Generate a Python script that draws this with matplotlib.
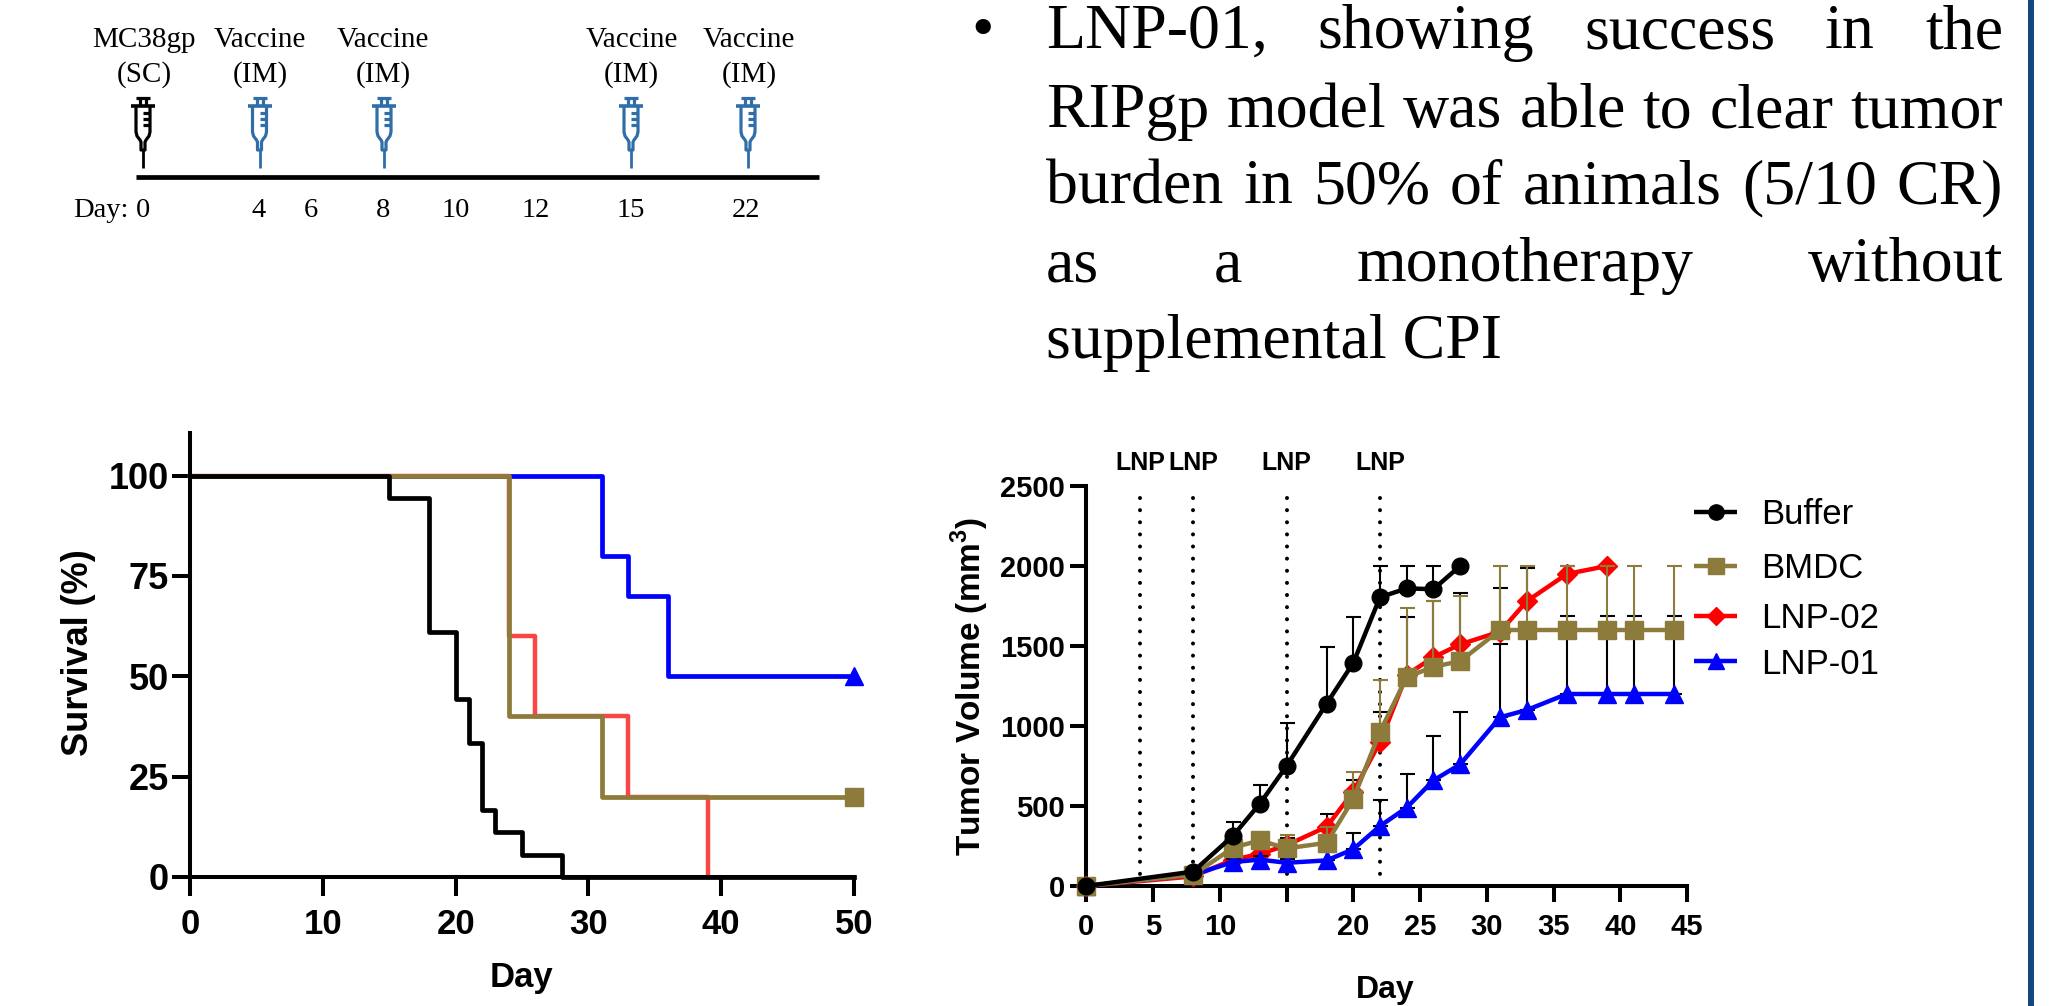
"""Vaccine schedule, survival and tumor growth slide panel."""
import matplotlib
matplotlib.use("Agg")
import matplotlib.pyplot as plt

W, H = 2069, 1006
SERIF = "Liberation Serif"
SANS = "Liberation Sans"

plt.rcParams["font.family"] = SANS
plt.rcParams["mathtext.fontset"] = "custom"
plt.rcParams["mathtext.bf"] = "Liberation Sans:bold"

BLACK = "#000000"
OLIVE = "#8c7b3a"
RED = "#ff0000"
LIGHT_RED = "#fb4545"
BLUE = "#0000ff"
SYRINGE_BLUE = "#2f6ea8"
BAR_BLUE = "#13487c"

# schedule
sched_labels = ["MC38gp\n(SC)", "Vaccine\n(IM)", "Vaccine\n(IM)", "Vaccine\n(IM)", "Vaccine\n(IM)"]
sched_days = ["0", "4", "6", "8", "10", "12", "15", "22"]

# bullet text
bullet_lines = [
    "LNP-01, showing success in the",
    "RIPgp model was able to clear tumor",
    "burden in 50% of animals (5/10 CR)",
    "as a monotherapy without",
    "supplemental CPI",
]

# survival curves, (day of drop, level after drop)
surv_buffer_x = [0, 15, 18, 20, 21, 22, 23, 25, 28, 50]
surv_buffer_y = [100, 94.4, 61.1, 44.4, 33.3, 16.7, 11.1, 5.6, 0, 0]
surv_bmdc_x = [0, 24, 31, 50]
surv_bmdc_y = [100, 40, 20, 20]
surv_lnp02_x = [0, 24, 26, 33, 39]
surv_lnp02_y = [100, 60, 40, 20, 0]
surv_lnp01_x = [0, 31, 33, 36, 50]
surv_lnp01_y = [100, 80, 70, 50, 50]

# tumor volume, top = top of the error bar
days_long = [0, 8, 11, 13, 15, 18, 20, 22, 24, 26, 28, 31, 33, 36, 39, 41, 44]
buffer_x = days_long[:11]
buffer_y = [0, 90, 315, 515, 750, 1140, 1395, 1805, 1860, 1855, 2000]
buffer_top = [0, 100, 400, 630, 1020, 1495, 1680, 2000, 2000, 2000, 2000]
bmdc_x = days_long
bmdc_y = [0, 70, 240, 285, 235, 270, 545, 965, 1305, 1370, 1405, 1600, 1600, 1600, 1600, 1600, 1600]
bmdc_top = [0, 80, 260, 310, 320, 370, 710, 1285, 1740, 1780, 1810, 2000, 2000, 2000, 2000, 2000, 2000]
lnp02_x = days_long[:15]
lnp02_y = [0, 60, 165, 200, 255, 370, 590, 900, 1320, 1430, 1510, 1590, 1780, 1950, 2000]
lnp02_top = [0, 70, 190, 240, 300, 450, 665, 1090, 1680, 1780, 1830, 1860, 1990, 2000, 2000]
lnp01_x = days_long
lnp01_y = [0, 70, 150, 165, 145, 160, 230, 375, 490, 660, 760, 1055, 1100, 1200, 1200, 1200, 1200]
lnp01_top = [0, 75, 170, 190, 170, 215, 330, 540, 700, 940, 1090, 1510, 1600, 1690, 1690, 1690, 1690]
lnp_days = [4, 8, 15, 22]


def ax_px(x0, x1, y_top, y_bottom):
    """Axes from pixel edges of the picture."""
    return fig.add_axes([x0 / W, 1 - y_bottom / H, (x1 - x0) / W, (y_bottom - y_top) / H])


def draw_syringe(ax, x, color):
    kw = dict(color=color, lw=2.3, solid_capstyle="butt")
    ax.plot([x - 7, x + 7], [98, 98], **kw)
    ax.plot([x - 3, x - 3], [98, 105], **kw)
    ax.plot([x + 3, x + 3], [98, 105], **kw)
    ax.plot([x - 12, x + 12], [105.5, 105.5], color=color, lw=2.6, solid_capstyle="butt")
    ax.plot([x - 7, x - 7, x - 6, x - 3, x - 2, x - 2, x + 2, x + 2, x + 3, x + 6, x + 7, x + 7],
            [105, 132, 136, 140, 142, 150, 150, 142, 140, 136, 132, 105], **kw)
    for yy in (113, 119, 125):
        ax.plot([x, x + 7], [yy, yy], **kw)
    ax.plot([x, x], [150, 168], color=color, lw=2.0, solid_capstyle="butt")


def justified(ax, words, x0, x1, y, size):
    texts = [ax.text(x0, y, w, family=SERIF, fontsize=size, va="baseline", ha="left", color="black")
             for w in words]
    r = fig.canvas.get_renderer()
    widths = [t.get_window_extent(r).width for t in texts]
    gap = (x1 - x0 - sum(widths)) / (len(words) - 1)
    x = x0
    for t, w in zip(texts, widths):
        t.set_x(x)
        x += w + gap


fig = plt.figure(figsize=(W / 100, H / 100), dpi=100, facecolor="white")

# --- overlay in pixel coordinates ---
ov = fig.add_axes([0, 0, 1, 1], zorder=0)
ov.set_xlim(0, W); ov.set_ylim(H, 0); ov.axis("off")

syr_x = [143, 259.5, 384, 631, 748]
lab_x = [144, 260, 383, 631.5, 749]
for i, (sx, lx, lab) in enumerate(zip(syr_x, lab_x, sched_labels)):
    draw_syringe(ov, sx, BLACK if i == 0 else SYRINGE_BLUE)
    top, bottom = lab.split("\n")
    ov.text(lx, 47, top, family=SERIF, fontsize=21, ha="center", va="baseline")
    ov.text(lx, 82, bottom, family=SERIF, fontsize=21, ha="center", va="baseline")
ov.plot([135.5, 818.5], [176.5, 176.5], color="black", lw=3.4, solid_capstyle="butt")
ov.text(73, 217, "Day:", family=SERIF, fontsize=20.5, ha="left", va="baseline")
for d, dx in zip(sched_days, [143, 259, 310.5, 383, 456, 536, 631, 746]):
    ov.text(dx, 217, d, family=SERIF, fontsize=20.5, ha="center", va="baseline")

ov.text(983, 48, "•", family=SERIF, fontsize=46, ha="center", va="baseline")
baselines = [48, 127, 203, 281, 358]
for line, by in zip(bullet_lines[:4], baselines):
    justified(ov, line.split(), 1046, 2003, by, 46)
ov.text(1046, baselines[4], bullet_lines[4], family=SERIF, fontsize=46, va="baseline")

ov.fill_between([2028, 2033.5], 0, H, color=BAR_BLUE, lw=0)

# --- survival ---
ax = ax_px(190, 854, 433, 877)
ax.set_xlim(0, 50)
ax.set_ylim(0, 110.6)
ax.step(surv_lnp01_x, surv_lnp01_y, where="post", color=BLUE, lw=3.4, clip_on=False)
ax.step(surv_lnp02_x, surv_lnp02_y, where="post", color=LIGHT_RED, lw=3.2, clip_on=False)
ax.step(surv_bmdc_x, surv_bmdc_y, where="post", color=OLIVE, lw=3.4, clip_on=False)
ax.step(surv_buffer_x, surv_buffer_y, where="post", color=BLACK, lw=3.4, clip_on=False)
ax.plot(surv_lnp01_x[-1], surv_lnp01_y[-1], "^", color=BLUE, ms=13, clip_on=False, zorder=5)
ax.plot(surv_bmdc_x[-1], surv_bmdc_y[-1], "s", color=OLIVE, ms=13, clip_on=False, zorder=5)
for s in ("top", "right"):
    ax.spines[s].set_visible(False)
for s in ("left", "bottom"):
    ax.spines[s].set_linewidth(2.9)
ax.set_xticks(range(0, 51, 10))
ax.set_yticks([0, 25, 50, 75, 100])
ax.tick_params(axis="x", length=14, width=2.9, pad=8, labelsize=25)
ax.tick_params(axis="y", length=13, width=2.9, pad=2, labelsize=26)
for t in ax.get_xticklabels() + ax.get_yticklabels():
    t.set_fontweight("bold")
ov.text(521, 977, "Day", fontsize=25, fontweight="bold", ha="center", va="center")
ov.text(79, 653, "Survival (%)", fontsize=26, fontweight="bold", rotation=90, ha="center", va="center")

# --- tumor volume ---
ax = ax_px(1086.4, 1687, 486, 886)
ax.set_xlim(0, 45)
ax.set_ylim(0, 2500)
for d in lnp_days:
    ax.plot([d, d], [0, 2500], color="black", lw=2.9, ls=(0, (0.01, 3)), dash_capstyle="round", zorder=1)
for name, x, y, top, col, ecol, mk, ms, z in [
    ("LNP-02", lnp02_x, lnp02_y, lnp02_top, RED, BLACK, "D", 10, 3),
    ("LNP-01", lnp01_x, lnp01_y, lnp01_top, BLUE, BLACK, "^", 13, 4),
    ("BMDC", bmdc_x, bmdc_y, bmdc_top, OLIVE, OLIVE, "s", 12.5, 5),
    ("Buffer", buffer_x, buffer_y, buffer_top, BLACK, BLACK, "o", 12, 6),
]:
    yerr = [[0] * len(y), [t - v for t, v in zip(top, y)]]
    ax.errorbar(x, y, yerr=yerr, color=col, ecolor=ecol, lw=3.2, marker=mk, ms=ms, mec=col,
                elinewidth=1.5, capsize=5.4, capthick=1.5, clip_on=False, zorder=z)
for s in ("top", "right"):
    ax.spines[s].set_visible(False)
for s in ("left", "bottom"):
    ax.spines[s].set_linewidth(2.9)
ax.set_xticks(range(0, 46, 5))
ax.set_xticklabels(["0", "5", "10", "", "20", "25", "30", "35", "40", "45"])
ax.set_yticks(range(0, 2501, 500))
ax.tick_params(axis="x", length=11.5, width=2.9, pad=8, labelsize=21)
ax.tick_params(axis="y", length=11.5, width=2.9, pad=4, labelsize=21)
for t in ax.get_xticklabels() + ax.get_yticklabels():
    t.set_fontweight("bold")
for lx in [1140, 1193.6, 1286, 1380]:
    ov.text(lx, 463.5, "LNP", fontsize=18, fontweight="bold", ha="center", va="center")
ov.text(1385, 990, "Day", fontsize=23, fontweight="bold", ha="center", va="center")
ov.text(970, 686, r"Tumor Volume (mm$^{\mathbf{3}}$)", fontsize=24, fontweight="bold",
        rotation=90, ha="center", va="center")

# legend by hand, rows are not evenly spaced in the reference
for name, col, mk, ms, ly in [("Buffer", BLACK, "o", 11, 512), ("BMDC", OLIVE, "s", 12, 566),
                              ("LNP-02", RED, "D", 9.5, 616), ("LNP-01", BLUE, "^", 12, 661)]:
    ov.plot([1694, 1737], [ly, ly], color=col, lw=3.2, solid_capstyle="butt")
    ov.plot(1715.5, ly, marker=mk, color=col, ms=ms, mec=col)
    ov.text(1761, ly + 3, name, fontsize=25, ha="left", va="center")

ov.set_xlim(0, W); ov.set_ylim(H, 0)
fig.savefig("out.png", dpi=100, facecolor="white")
print("wrote out.png")
